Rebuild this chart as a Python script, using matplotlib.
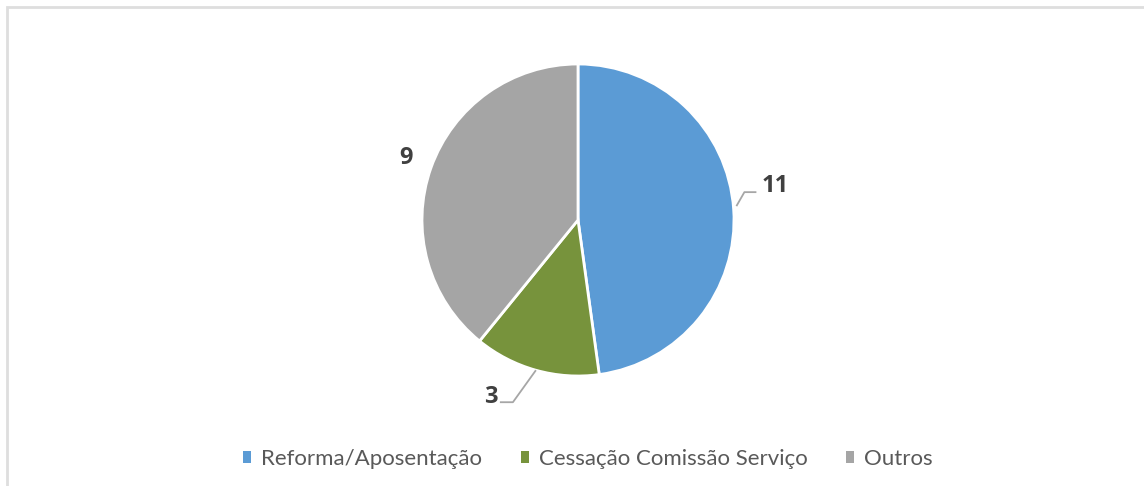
import numpy as np
import matplotlib
matplotlib.use("Agg")
import matplotlib.pyplot as plt
from matplotlib.patches import Patch, Rectangle

categories = ["Reforma/Aposentação", "Cessação Comissão Serviço", "Outros"]
values = [11, 3, 9]
colors = ["#5B9BD5", "#77933C", "#A5A5A5"]

W, H = 1144, 486
fig = plt.figure(figsize=(W / 100, H / 100), dpi=100)
fig.patch.set_facecolor("white")

# chart border (top and left visible)
fig.patches.append(Rectangle((7 / W, -0.1), 1.2, (H - 7) / H + 0.1, transform=fig.transFigure,
                             fill=False, edgecolor="#DEDEDE", linewidth=2))

ax = fig.add_axes([0, 0, 1, 1])
cx, cy, R = 578, H - 220, 156
wedges, _ = ax.pie(values, colors=colors, startangle=90, counterclock=False,
                   center=(cx, cy), radius=R, frame=True,
                   wedgeprops=dict(edgecolor="white", linewidth=2))
ax.set_xlim(0, W)
ax.set_ylim(0, H)
ax.set_aspect("equal")
ax.axis("off")

lab_font = dict(fontsize=17, fontweight="bold", color="#404040", family=["Open Sans", "DejaVu Sans"])
line_col = "#A6A6A6"

for i, w in enumerate(wedges):
    ang = np.deg2rad((w.theta1 + w.theta2) / 2)
    ex, ey = cx + R * np.cos(ang), cy + R * np.sin(ang)
    if i == 0:
        ex, ey = cx + 159 * np.cos(np.deg2rad(5)), cy + 159 * np.sin(np.deg2rad(5))
        px, py = ex + 8, ey + 14
        qx, qy = px + 12, py
        ax.plot([ex, px, qx], [ey, py, qy], color=line_col, lw=1.3, solid_capstyle="butt")
        ax.text(qx + 5, qy + 6, str(values[i]), ha="left", va="center", **lab_font)
    elif i == 1:
        px, py = ex - 23, ey - 32
        qx, qy = px - 13, py
        ax.plot([ex, px, qx], [ey, py, qy], color=line_col, lw=1.3, solid_capstyle="butt")
        ax.text(qx - 2, qy + 5, str(values[i]), ha="right", va="center", **lab_font)
    else:
        tx, ty = cx + 181 * np.cos(ang), cy + 181 * np.sin(ang)
        ax.text(tx - 1, ty + 1, str(values[i]), ha="center", va="center", **lab_font)

handles = [Patch(facecolor=c, edgecolor="none") for c in colors]
fig.legend(handles, categories, loc="center", bbox_to_anchor=(588 / W, 1 - 459 / H),
           ncol=3, frameon=False, handlelength=0.35, handleheight=0.45, handletextpad=0.45,
           columnspacing=1.75,
           prop=dict(family=["Lato", "DejaVu Sans"], size=16), labelcolor="#595959")

fig.savefig("out.png", dpi=100, facecolor="white")
